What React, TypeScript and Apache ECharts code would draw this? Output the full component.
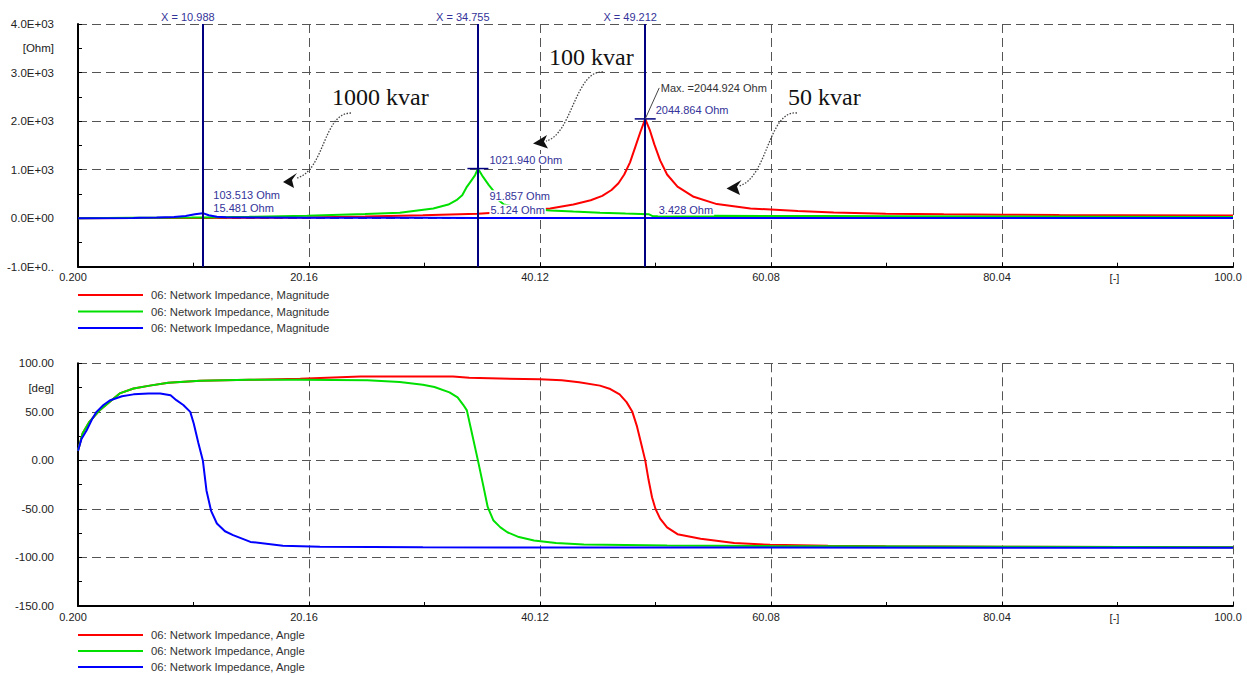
import React, { useEffect, useRef } from "react";
import * as echarts from "echarts";

// ---------- data ----------
const X0 = 0.2;
const X_MAX = 100.0;
const X_STEP = 19.96;
const X_TICK_LABELS = ["0.200", "20.16", "40.12", "60.08", "80.04", "100.0"];
const X_UNIT_LABEL = "[-]";
const X_UNIT_AT = 90.02;

const MAG_MIN = -1000;
const MAG_MAX = 4000;
const MAG_TICKS = [-1000, 0, 1000, 2000, 3000, 4000];
const MAG_TICK_LABELS = ["-1.0E+0..", "0.0E+00", "1.0E+03", "2.0E+03", "3.0E+03", "4.0E+03"];
const MAG_UNIT = "[Ohm]";
const MAG_UNIT_AT = 3500;

const ANG_MIN = -150;
const ANG_MAX = 100;
const ANG_TICKS = [-150, -100, -50, 0, 50, 100];
const ANG_TICK_LABELS = ["-150.00", "-100.00", "-50.00", "0.00", "50.00", "100.00"];
const ANG_UNIT = "[deg]";
const ANG_UNIT_AT = 75;

const MAG_NAME = "06: Network Impedance, Magnitude";
const ANG_NAME = "06: Network Impedance, Angle";
const COLORS = ["#ff0000", "#00e000", "#0000ff"];
const CASES = ["50 kvar", "100 kvar", "1000 kvar"];

// Magnitude [Ohm]
const RED_MAG_X = [0.2, 5, 10, 15, 20, 25, 30, 34.755, 38, 41, 43, 44.5, 45.5, 46.3, 46.9, 47.4, 47.9, 48.4, 48.8, 49.212, 49.6, 50.0, 50.5, 51.1, 52, 53.4, 55.4, 58.3, 62.4, 65.5, 70, 75, 80, 85, 90, 100];
const RED_MAG_Y = [0, 2, 5, 9, 16, 32, 58, 91.857, 140, 200, 280, 370, 460, 580, 720, 900, 1150, 1500, 1780, 2044.9, 1820, 1520, 1190, 900, 650, 440, 290, 200, 150, 115, 90, 78, 70, 64, 60, 55];
const GREEN_MAG_X = [0.2, 5, 10, 10.988, 15, 20, 25, 28, 30.9, 32.2, 32.9, 33.4, 33.8, 34.2, 34.5, 34.755, 35.2, 35.7, 36.1, 36.5, 37, 38.5, 41, 43, 45.3, 47.5, 49.5, 49.9, 55, 60, 65, 71.3, 80, 90, 100];
const GREEN_MAG_Y = [0, 6, 13, 15.481, 28, 50, 85, 110, 200, 280, 370, 470, 645, 780, 880, 1021.94, 850, 680, 560, 380, 280, 210, 160, 135, 110, 95, 82, 38, 50, 46, 43, 40, 35, 30, 25];
const BLUE_MAG_X = [0.2, 5, 5.5, 7, 8.5, 9.5, 10.3, 10.988, 11.5, 12.2, 13, 15, 20, 25, 30, 34.755, 40, 49.212, 60, 80, 100];
const BLUE_MAG_Y = [0, 2, 8, 15, 25, 45, 80, 103.513, 60, 30, 18, 12, 9, 7, 6, 5.124, 4.3, 3.428, 2.7, 2, 1.5];

// Angle [deg]
const RED_ANG_X = [0.2, 0.6, 1.2, 2.1, 3, 3.8, 5, 6.4, 8, 10.75, 15, 19.4, 24.6, 32.6, 34, 40.1, 42, 43.5, 45.3, 46.2, 47, 47.6, 48.1, 48.5, 48.85, 49.212, 49.5, 49.8, 50.1, 50.5, 51.1, 52, 54, 56.9, 60, 65, 70, 80, 100];
const RED_ANG_Y = [10, 28, 40, 52, 61, 69, 74, 77, 80, 82, 83, 84, 86.5, 86.5, 85, 83.5, 82.5, 80.5, 77, 73.5, 68, 60, 50, 35, 18, 0, -20, -38, -50, -60, -69, -76, -80.7, -85, -87, -88, -88.5, -89, -89.5];
const GREEN_ANG_X = [0.2, 0.6, 1.2, 2.1, 3, 3.8, 5, 6.4, 8, 10.75, 15, 19.4, 25.2, 28, 30, 31, 32.3, 33, 33.5, 33.8, 34.2, 34.755, 35.2, 35.6, 36.1, 36.7, 37.3, 38.3, 39.6, 41.5, 43.9, 51.1, 60, 80, 100];
const GREEN_ANG_Y = [10, 28, 40, 52, 61, 69, 74, 77, 80, 82, 83, 83, 82.5, 80.7, 78, 75.6, 70, 65, 57, 51.5, 30, 0, -25, -48, -62, -69, -74, -79, -82.5, -85, -86.6, -87.6, -88.3, -89, -89.5];
const BLUE_ANG_X = [0.2, 0.5, 0.95, 1.4, 1.8, 2.4, 3, 4, 5, 6.3, 7.3, 8.2, 8.7, 9.3, 9.9, 10.2, 10.6, 10.988, 11.3, 11.7, 12.2, 12.9, 13.6, 15.1, 17.9, 21.1, 30, 40, 60, 80, 100];
const BLUE_ANG_Y = [10, 22, 31, 42, 50, 57, 62, 66, 68, 69, 69, 67, 62, 57, 50, 38, 18, 0, -31, -52, -65, -73, -77, -84, -88, -89, -89.5, -89.7, -89.8, -89.9, -90];

// Cursors and readings
const MARKERS = [10.988, 34.755, 49.212];
const READ_X = [10.988, 10.988, 34.755, 34.755, 34.755, 49.212, 49.212];
const READ_Y = [103.513, 15.481, 1021.94, 91.857, 5.124, 2044.864, 3.428];
const READ_SERIES = [2, 1, 1, 0, 2, 0, 2];
const PEAK_READINGS = [2, 5];
const MAX_X = 49.212;
const MAX_Y = 2044.924;

// ---------- styles / layout ----------
const FONT = "'Liberation Sans', Arial, sans-serif";
const SERIF = "'Liberation Serif', 'Times New Roman', serif";
const NAVY = "#000080";
const CURSOR_TEXT = "#333399";
const GRID_LINE = { color: "#555", type: [9, 5], width: 1 };
const READ_OFFSETS = [[10, -23], [10, -14], [11, -14], [11, -23], [12, -13], [10, -14], [13, -13]];

const MAG_X = [RED_MAG_X, GREEN_MAG_X, BLUE_MAG_X];
const MAG_Y = [RED_MAG_Y, GREEN_MAG_Y, BLUE_MAG_Y];
const ANG_X = [RED_ANG_X, GREEN_ANG_X, BLUE_ANG_X];
const ANG_Y = [RED_ANG_Y, GREEN_ANG_Y, BLUE_ANG_Y];

function xAxisFor(g: number) {
  return {
    type: "value",
    gridIndex: g,
    min: 0,
    max: X_MAX - X0,
    interval: X_STEP,
    axisLine: { show: true, onZero: false, lineStyle: { color: "#000", width: 2 } },
    axisTick: { show: true, inside: true, length: 4, lineStyle: { color: "#000" } },
    minorTick: { show: true, splitNumber: 2, length: 4, lineStyle: { color: "#000" } },
    axisLabel: {
      show: true,
      color: "#222",
      fontSize: 11,
      fontFamily: FONT,
      margin: 5,
      padding: [0, 10, 0, 0],
      showMinLabel: true,
      showMaxLabel: true,
      formatter: (v: number) => X_TICK_LABELS[Math.round(v / X_STEP)] ?? "",
    },
    splitLine: { show: true, lineStyle: GRID_LINE },
  };
}

function yAxisFor(g: number, min: number, max: number, interval: number, ticks: number[], labels: string[]) {
  return {
    type: "value",
    gridIndex: g,
    min,
    max,
    interval,
    axisLine: { show: true, onZero: false, lineStyle: { color: "#000", width: 2 } },
    axisTick: { show: true, inside: true, length: 4, lineStyle: { color: "#000" } },
    minorTick: { show: true, splitNumber: 2, length: 4, lineStyle: { color: "#000" } },
    axisLabel: {
      color: "#222",
      fontSize: 11.5,
      fontFamily: FONT,
      margin: 24,
      showMinLabel: true,
      showMaxLabel: true,
      formatter: (v: number) => {
        const i = ticks.indexOf(v);
        return i >= 0 ? labels[i] : "";
      },
    },
    splitLine: { show: true, lineStyle: GRID_LINE },
  };
}

function labelItem(x: number, y: number, text: string, pos: number[], color: string, bg: boolean) {
  return {
    name: text,
    coord: [x - X0, y],
    symbol: "rect",
    symbolSize: 1,
    itemStyle: { color: "rgba(0,0,0,0)" },
    label: {
      show: true,
      position: pos,
      formatter: text,
      color,
      fontSize: 11,
      fontFamily: FONT,
      backgroundColor: bg ? "#fff" : "transparent",
      padding: [0, 1],
    },
  };
}

function buildOption() {
  const magSeries = [0, 1, 2].map((i) => {
    const mp: any[] = [];
    READ_SERIES.forEach((s, k) => {
      if (s !== i) return;
      mp.push(labelItem(READ_X[k], READ_Y[k], `${READ_Y[k].toFixed(3)} Ohm`, READ_OFFSETS[k], CURSOR_TEXT, true));
      if (PEAK_READINGS.includes(k)) {
        mp.push({
          name: "peak" + k,
          coord: [READ_X[k] - X0, READ_Y[k]],
          symbol: "rect",
          symbolSize: [21, 1.5],
          itemStyle: { color: NAVY },
          label: { show: false },
        });
      }
    });
    if (i === 0) {
      mp.push(labelItem(MAX_X, MAX_Y, `Max. =${MAX_Y.toFixed(3)} Ohm`, [15, -36], "#333", false));
    }
    const s: any = {
      type: "line",
      name: MAG_NAME,
      xAxisIndex: 0,
      yAxisIndex: 0,
      data: MAG_X[i].map((x, j) => [x - X0, MAG_Y[i][j]]),
      symbol: "none",
      showSymbol: false,
      lineStyle: { color: COLORS[i], width: 2 },
      itemStyle: { color: COLORS[i] },
      z: 2 + i,
      silent: true,
      markPoint: { silent: true, z: 7, data: mp },
    };
    if (i === 0) {
      s.markLine = {
        silent: true,
        z: 6,
        symbol: ["none", "none"],
        lineStyle: { color: NAVY, width: 2, type: "solid" },
        label: {
          show: true,
          position: "end",
          formatter: "{b}",
          color: CURSOR_TEXT,
          fontSize: 11,
          fontFamily: FONT,
          distance: 2,
          padding: [0, 30, 0, 0],
        },
        data: MARKERS.map((m) => ({ name: `X = ${m.toFixed(3)}`, xAxis: m - X0 })),
      };
    }
    return s;
  });

  const angSeries = [0, 1, 2].map((i) => ({
    type: "line",
    name: ANG_NAME,
    xAxisIndex: 1,
    yAxisIndex: 1,
    data: ANG_X[i].map((x, j) => [x - X0, ANG_Y[i][j]]),
    symbol: "none",
    showSymbol: false,
    lineStyle: { color: COLORS[i], width: 2 },
    itemStyle: { color: COLORS[i] },
    z: 2 + i,
    silent: true,
  }));

  return {
    animation: false,
    backgroundColor: "#fff",
    grid: [
      { left: 78, top: 24, width: 1155, height: 242.7 },
      { left: 78, top: 363.3, width: 1155, height: 242.7 },
    ],
    xAxis: [xAxisFor(0), xAxisFor(1)],
    yAxis: [
      yAxisFor(0, MAG_MIN, MAG_MAX, 1000, MAG_TICKS, MAG_TICK_LABELS),
      yAxisFor(1, ANG_MIN, ANG_MAX, 50, ANG_TICKS, ANG_TICK_LABELS),
    ],
    series: [...magSeries, ...angSeries],
  };
}

function txt(x: number, y: number, t: string, align: string, extra: any = {}) {
  return {
    type: "text",
    x,
    y,
    z: 100,
    silent: true,
    style: { text: t, fill: "#222", fontSize: 11, fontFamily: FONT, align, verticalAlign: "middle", ...extra },
  };
}

function arrow(label: string, lx: number, ly: number, curve: number[], head: number[][]) {
  const [x1, y1, cpx1, cpy1, cpx2, cpy2, x2, y2] = curve;
  return [
    txt(lx, ly, label, "left", { fontSize: 24, fontFamily: SERIF, fill: "#111" }),
    {
      type: "bezierCurve",
      z: 100,
      silent: true,
      shape: { x1, y1, cpx1, cpy1, cpx2, cpy2, x2, y2 },
      style: { stroke: "#444", lineWidth: 1.3, lineDash: [1.5, 1.5], fill: null },
    },
    { type: "polygon", z: 100, silent: true, shape: { points: head }, style: { fill: "#111" } },
  ];
}

function buildGraphics(chart: any) {
  const px = (g: number, x: number, y: number) =>
    chart.convertToPixel({ gridIndex: g }, [x - X0, y]) as number[];
  const els: any[] = [];

  // unit labels
  const [u0x, u0y] = px(0, X_UNIT_AT, MAG_MIN);
  els.push(txt(u0x - 3, u0y + 11.5, X_UNIT_LABEL, "center"));
  const [u1x, u1y] = px(1, X_UNIT_AT, ANG_MIN);
  els.push(txt(u1x - 3, u1y + 11.5, X_UNIT_LABEL, "center"));
  const [ox, oy] = px(0, X0, MAG_UNIT_AT);
  els.push(txt(ox - 24, oy, MAG_UNIT, "right", { fontSize: 11.5 }));
  const [dx, dy] = px(1, X0, ANG_UNIT_AT);
  els.push(txt(dx - 24, dy, ANG_UNIT, "right", { fontSize: 11.5 }));

  // Max leader line
  const [mx, my] = px(0, MAX_X, MAX_Y);
  els.push({
    type: "line",
    z: 100,
    silent: true,
    shape: { x1: mx, y1: my, x2: mx + 14, y2: my - 31 },
    style: { stroke: "#444", lineWidth: 1 },
  });

  // legends
  const legendRows = [
    { ys: [295, 311.5, 328], name: MAG_NAME },
    { ys: [635, 651, 667], name: ANG_NAME },
  ];
  legendRows.forEach((row) => {
    row.ys.forEach((y, i) => {
      els.push({
        type: "line",
        z: 100,
        silent: true,
        shape: { x1: 78, y1: y, x2: 143, y2: y },
        style: { stroke: COLORS[i], lineWidth: 2 },
      });
      els.push(txt(151, y, row.name, "left", { fill: "#333", fontSize: 11.3 }));
    });
  });

  // case annotations
  els.push(
    ...arrow(CASES[2], 332, 97, [351, 113, 323, 113, 325, 170, 297, 178], [[283, 182], [297, 173], [292, 180], [294, 188]]),
    ...arrow(CASES[1], 549, 57, [603, 72, 575, 70, 572, 135, 546, 141], [[533, 143.5], [547, 135], [544, 141.5], [548, 148.5]]),
    ...arrow(CASES[0], 788, 97, [797, 113, 768, 110, 768, 178, 739, 186], [[726.5, 188.5], [741.5, 180], [737, 186.5], [740, 195]])
  );
  return els;
}

export default function App() {
  const ref = useRef<HTMLDivElement>(null);
  useEffect(() => {
    if (!ref.current) return;
    const chart = echarts.init(ref.current, undefined, { renderer: "svg" });
    chart.setOption(buildOption() as any);
    chart.setOption({ graphic: buildGraphics(chart) } as any);
    return () => chart.dispose();
  }, []);
  return (
    <div
      ref={ref}
      style={{ position: "fixed", left: 0, top: 0, width: 1247, height: 675, background: "#fff" }}
    />
  );
}
